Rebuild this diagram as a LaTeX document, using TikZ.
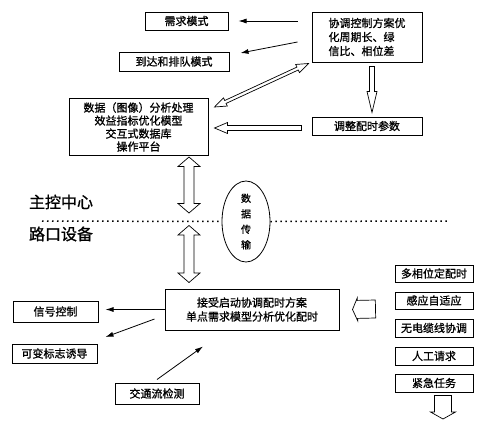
\documentclass[tikz,border=0pt]{standalone}
\usepackage{fontspec}
\setmainfont{Noto Sans CJK SC}[FakeBold=1]
\usetikzlibrary{calc,shapes.geometric,arrows.meta}

\newcommand\myhdbl[5]{% A B shafthalf headhalf headlen
  \coordinate (hA1) at ($(#1)!#5!(#2)$);
  \coordinate (hB1) at ($(#2)!#5!(#1)$);
  \draw[hollow] (#1) -- ($(hA1)!#4!90:(#2)$) -- ($(hA1)!#3!90:(#2)$) -- ($(hB1)!#3!-90:(#1)$) -- ($(hB1)!#4!-90:(#1)$) -- (#2) -- ($(hB1)!#4!90:(#1)$) -- ($(hB1)!#3!90:(#1)$) -- ($(hA1)!#3!-90:(#2)$) -- ($(hA1)!#4!-90:(#2)$) -- cycle;}
\newcommand\myhsgl[5]{% tail tip shafthalf headhalf headlen
  \coordinate (hB1) at ($(#2)!#5!(#1)$);
  \draw[hollow] ($(#1)!#3!90:(#2)$) -- ($(hB1)!#3!-90:(#1)$) -- ($(hB1)!#4!-90:(#1)$) -- (#2) -- ($(hB1)!#4!90:(#1)$) -- ($(hB1)!#3!90:(#1)$) -- ($(#1)!#3!-90:(#2)$) -- cycle;}

\tikzset{
  box/.style={draw, line width=1pt, inner sep=0pt, align=center, font=\fontsize{11}{13}\selectfont},
  thinarr/.style={line width=0.8pt, -{Latex[length=8pt,width=5pt]}},
  hollow/.style={draw, line width=0.7pt, fill=white, line join=miter},
  divline/.style={line width=1.5pt, dash pattern=on 1.5pt off 3.5pt},
  biglabel/.style={font=\fontsize{16}{16}\selectfont, inner sep=0pt},
}

\begin{document}
\begin{tikzpicture}[x=1pt,y=-1pt]
\useasboundingbox[fill=white] (0,0) rectangle (500,437);

% top: main control centre
\node[box, minimum width=83, minimum height=18] (req) at (186.5,21) {需求模式};
\node[box, minimum width=110, minimum height=19] (arr) at (174,61.5) {到达和排队模式};
\node[box, minimum width=110, minimum height=50, align=left, font=\fontsize{11}{14}\selectfont] (coord) at (367,37) {协调控制方案优\\化周期长、绿\\信比、相位差};
\node[box, minimum width=110, minimum height=18] (adj) at (367,126) {调整配时参数};
\node[box, minimum width=139, minimum height=57] (data) at (138.5,127) {数据（图像）分析处理\\效益指标优化模型\\交互式数据库\\操作平台};

\draw[thinarr] ($(coord.west |- req.east)+(-14,0)$) -- ($(req.east)+(10,0)$);
\draw[thinarr] ($(coord.west)+(-14,5)$) -- ($(arr.east)+(11,-8.5)$);

\coordinate (d1) at ($(data.north east)+(6,9)$);
\coordinate (d2) at ($(coord.south west)+(-3,1)$);
\myhdbl{d1}{d2}{1.6pt}{4.5pt}{12pt}
\coordinate (a1) at ($(coord.south)+(5,4)$);
\coordinate (a2) at ($(adj.north)+(5,-4)$);
\myhsgl{a1}{a2}{2.5pt}{5pt}{21pt}
\coordinate (b1) at ($(adj.west)+(-10,2)$);
\coordinate (b2) at ($(data.east)+(6,1)$);
\myhsgl{b1}{b2}{2.5pt}{5.5pt}{13pt}

% divider
\node[biglabel] (ctr) at (61,202) {主控中心};
\node[biglabel] (dev) at (61,234) {路口设备};
\node[draw, ellipse, line width=0.8pt, minimum width=48, minimum height=81, inner sep=0pt, align=center, font=\fontsize{10}{15.5}\selectfont] (tx) at (246,221.5) {数\\据\\传\\输};
\coordinate (dl) at (42,221);
\coordinate (dr) at (447,221);
\draw[divline] (dl) -- (tx.west);
\draw[divline] (tx.east) -- (dr);

% intersection device
\node[box, minimum width=174, minimum height=41, font=\fontsize{11}{14}\selectfont] (recv) at (252,309.5) {接受启动协调配时方案\\单点需求模型分析优化配时};

\coordinate (v1) at ($(data.south)+(50.5,1)$);
\coordinate (v2) at ($(data.south)+(50.5,57)$);
\myhdbl{v1}{v2}{5pt}{11pt}{9.5pt}
\coordinate (w1) at ($(recv.north)+(-63,-63)$);
\coordinate (w2) at ($(recv.north)+(-63,-6)$);
\myhdbl{w1}{w2}{5pt}{11pt}{9.5pt}

\node[box, minimum width=78, minimum height=17] (m1) at (434,273.5) {多相位定配时};
\node[box, minimum width=78, minimum height=17] (m2) at (434,300.5) {感应自适应};
\node[box, minimum width=78, minimum height=18] (m3) at (434,328) {无电缆线协调};
\node[box, minimum width=78, minimum height=18] (m4) at (434,356) {人工请求};
\node[box, minimum width=78, minimum height=18] (m5) at (434,383) {紧急任务};

\coordinate (p1) at ($(m2.west)+(-19,8.5)$);
\coordinate (p2) at ($(recv.east)+(13,0)$);
\myhsgl{p1}{p2}{9pt}{11.5pt}{5pt}
\coordinate (q1) at ($(m5.south)+(9,3)$);
\coordinate (q2) at ($(m5.south)+(9,26.5)$);
\myhsgl{q1}{q2}{8.5pt}{12.5pt}{7pt}

\node[box, minimum width=85, minimum height=21] (sig) at (55.5,311.5) {信号控制};
\node[box, minimum width=85, minimum height=19] (vms) at (54.5,353.5) {可变标志诱导};
\node[box, minimum width=84, minimum height=21] (det) at (157,393.5) {交通流检测};

\draw[thinarr] (recv.west) -- ($(sig.east |- recv.west)+(7,0)$);
\draw[thinarr] ($(recv.west)+(-10,9.5)$) -- ($(vms.east)+(8,-16.5)$);
\draw[thinarr] ($(det.north)+(0,-3)$) -- ($(recv.south)+(-49,16)$);
\end{tikzpicture}
\end{document}
